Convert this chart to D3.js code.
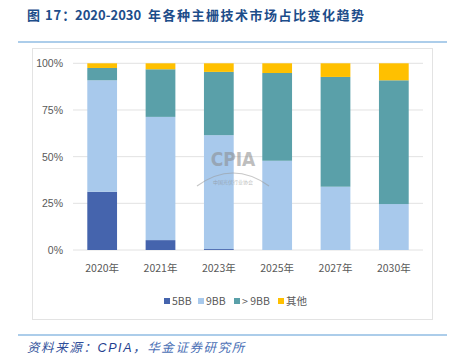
<!DOCTYPE html>
<html>
<head>
<meta charset="utf-8">
<style>
  body { margin: 0; background: #fff; }
  svg text { font-family: "Noto Sans CJK SC", "DejaVu Sans", sans-serif; }
</style>
</head>
<body>
<div id="chart"></div>
<script src="https://d3js.org/d3.v7.min.js"></script>
<script>
const years = ['2020年', '2021年', '2023年', '2025年', '2027年', '2030年'];
const seriesNames = ['5BB', '9BB', '> 9BB', '其他'];
const bb5 = [31.2, 5.3, 0.5, 0, 0, 0];
const bb9 = [59.7, 66.0, 61.0, 47.8, 33.9, 24.6];
const bbMore = [6.6, 25.5, 33.9, 47.0, 58.8, 66.3];
const others = [2.5, 3.2, 4.6, 5.2, 7.3, 9.1];
const yTicks = [0, 25, 50, 75, 100];
const colors = ['#4564ad', '#a8c9ec', '#5aa0a9', '#ffc000'];

const width = 462, height = 361;
const svg = d3.select('#chart').append('svg')
  .attr('width', width)
  .attr('height', height);

// title
const title = svg.append('text')
  .attr('y', 20)
  .attr('fill', '#1d4d8a')
  .style('font-size', '13px')
  .style('font-weight', 'bold')
  .style('white-space', 'pre');
title.append('tspan').attr('x', 27).style('letter-spacing', '1px').text('图 17：');
title.append('tspan').attr('x', 75).style('letter-spacing', '0px').text('2020-2030');
title.append('tspan').attr('x', 148).style('letter-spacing', '1.5px').text('年各种主栅技术市场占比变化趋势');

svg.append('line')
  .attr('x1', 18).attr('x2', 447).attr('y1', 42).attr('y2', 42)
  .attr('stroke', '#5b9bd5').attr('stroke-width', 1.2);

// chart frame
svg.append('rect')
  .attr('x', 32.5).attr('y', 48.5)
  .attr('width', 400).attr('height', 271)
  .attr('fill', 'none').attr('stroke', '#e3e3e3');

const x = d3.scaleBand().domain(years).range([73, 423]).paddingInner(0.49).paddingOuter(0.245);
const y = d3.scaleLinear().domain([0, 100]).range([250, 63.3]);

// gridlines
svg.append('g').selectAll('line')
  .data(yTicks).enter().append('line')
  .attr('x1', 73).attr('x2', 423)
  .attr('y1', d => y(d)).attr('y2', d => y(d))
  .attr('stroke', '#e2e2e2').attr('stroke-width', 1);

// y axis labels
const yAxis = d3.axisLeft(y).tickValues(yTicks).tickFormat(d => d + '%').tickSize(0).tickPadding(10);
const yg = svg.append('g').attr('transform', 'translate(73,0)').call(yAxis);
yg.select('.domain').remove();
yg.selectAll('text').attr('fill', '#595959').style('font-size', '10.5px').style('font-family', '"Liberation Sans Narrow", "Liberation Sans", sans-serif');

// stacked bars
const rows = years.map((yr, i) => ({ year: yr, s0: bb5[i], s1: bb9[i], s2: bbMore[i], s3: others[i] }));
const stack = d3.stack().keys(['s0', 's1', 's2', 's3']);
const layers = stack(rows);

svg.append('g').selectAll('g')
  .data(layers).enter().append('g')
  .attr('fill', (d, i) => colors[i])
  .selectAll('rect')
  .data(d => d).enter().append('rect')
  .attr('x', d => x(d.data.year))
  .attr('width', x.bandwidth())
  .attr('y', d => y(d[1]))
  .attr('height', d => y(d[0]) - y(d[1]));

// x axis labels
const xAxis = d3.axisBottom(x).tickSize(0).tickPadding(15);
const xg = svg.append('g').attr('transform', 'translate(0,250)').call(xAxis);
xg.select('.domain').remove();
xg.selectAll('text').attr('fill', '#595959').style('font-size', '10.5px');

// watermark
const wm = svg.append('g').attr('opacity', 0.55);
wm.append('text')
  .attr('x', 233).attr('y', 166)
  .attr('text-anchor', 'middle')
  .attr('fill', '#8a8a8a')
  .style('font-size', '19px')
  .style('font-weight', 'bold')
  .style('font-family', '"DejaVu Sans Condensed", sans-serif')
  .text('CPIA');
wm.append('path')
  .attr('d', 'M197,186 Q233,160 269,186')
  .attr('fill', 'none').attr('stroke', '#9a9a9a').attr('stroke-width', 1.2);
wm.append('text')
  .attr('x', 233).attr('y', 184)
  .attr('text-anchor', 'middle')
  .attr('fill', '#8a8a8a')
  .style('font-size', '5px')
  .text('中国光伏行业协会');

// legend
const legendX = [164, 198, 234, 278];
const lg = svg.append('g').selectAll('g')
  .data(seriesNames).enter().append('g')
  .attr('transform', (d, i) => `translate(${legendX[i]},298)`);
lg.append('rect').attr('width', 6).attr('height', 6).attr('fill', (d, i) => colors[i]);
lg.append('text')
  .attr('x', 8).attr('y', 6.5)
  .attr('fill', '#595959')
  .style('font-size', '10.5px')
  .text(d => d);

// source
svg.append('line')
  .attr('x1', 18).attr('x2', 447).attr('y1', 335).attr('y2', 335)
  .attr('stroke', '#5b9bd5').attr('stroke-width', 1.2);
const src = svg.append('text')
  .attr('x', 27).attr('y', 352)
  .style('font-size', '12.5px')
  .style('font-style', 'italic')
  .style('letter-spacing', '1.6px');
src.append('tspan').attr('fill', '#2f4f9a').text('资料来源：');
src.append('tspan').attr('fill', '#1f3f8f').style('font-family', '"Liberation Sans", sans-serif').text('CPIA');
src.append('tspan').attr('fill', '#2f4f9a').text('，');
src.append('tspan').attr('fill', '#4a6fb5').text('华金证券研究所');
</script>
</body>
</html>
